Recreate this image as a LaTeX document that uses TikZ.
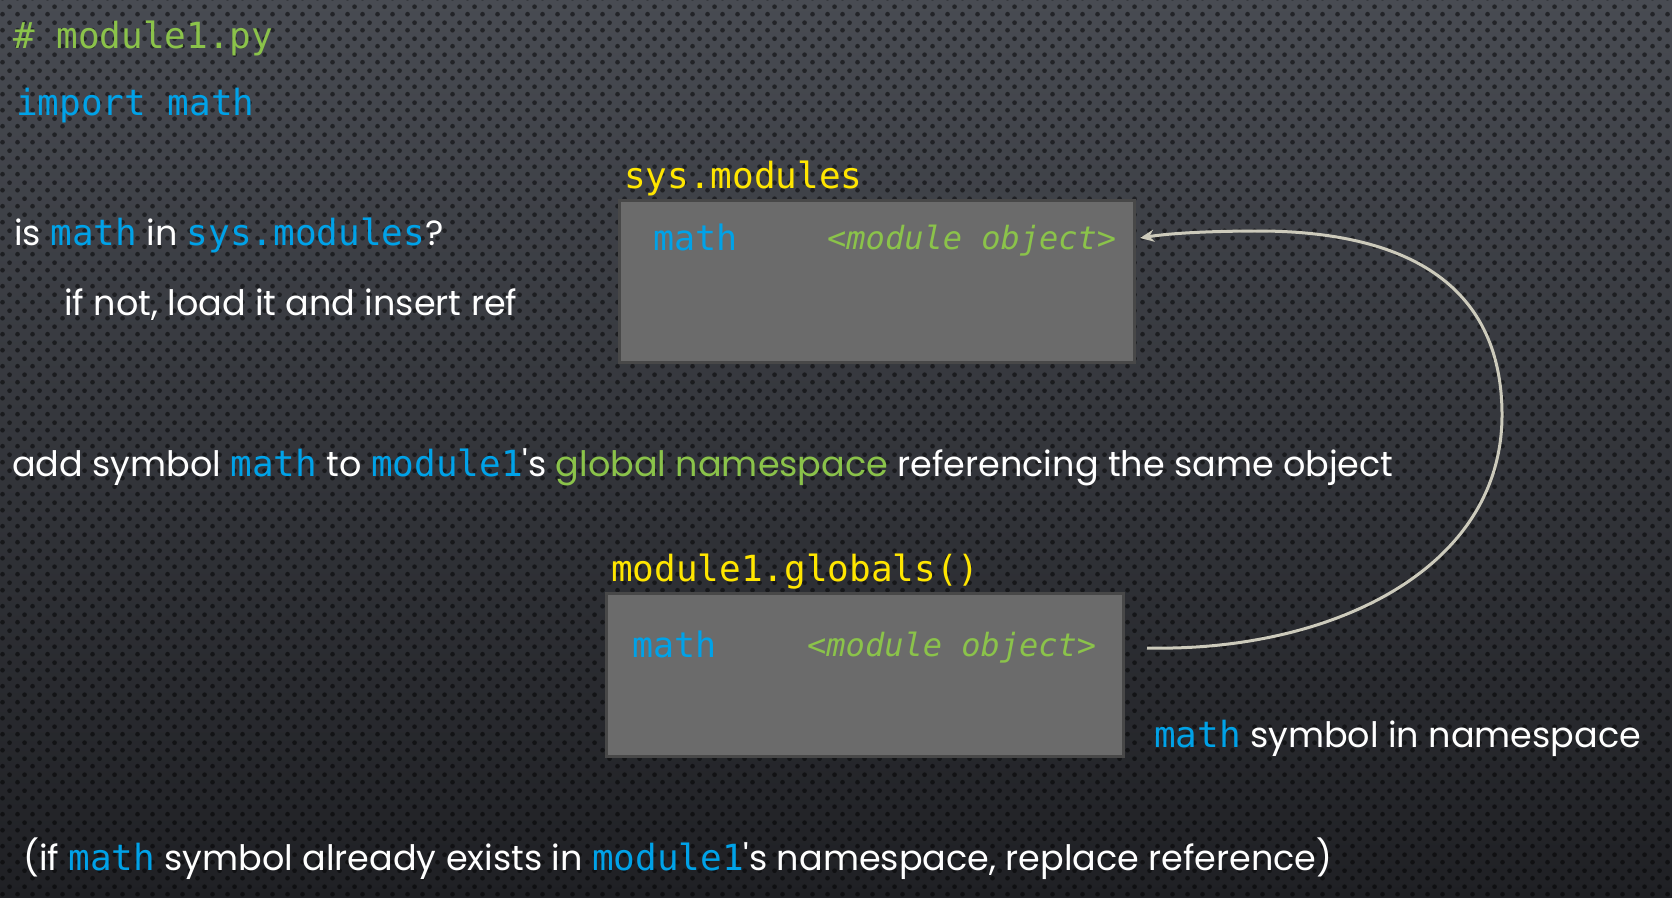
\documentclass[tikz,border=0pt]{standalone}
\usepackage{fontspec}
\setmainfont[Ligatures=TeXOff]{Poppins}
\setmonofont{DejaVu Sans Mono}
\usetikzlibrary{arrows.meta,patterns.meta}
\definecolor{cyel}{RGB}{255,230,0}
\definecolor{cblue}{RGB}{0,162,232}
\definecolor{cgreen}{RGB}{139,195,74}
\definecolor{boxfill}{RGB}{107,107,107}
\definecolor{boxline}{RGB}{72,72,72}
\definecolor{arr}{RGB}{205,203,188}
\definecolor{bgtop}{RGB}{72,75,82}
\definecolor{bgbot}{RGB}{31,32,36}
\tikzdeclarepattern{name=bgdots,type=uncolored,bounding box={(0pt,0pt) and (15pt,16pt)},tile size={(15pt,16pt)},code={\fill (3.75pt,4pt) circle (2.5pt); \fill (11.25pt,12pt) circle (2.5pt);}}
\newcommand{\mt}[1]{{\ttfamily\fontsize{36}{40}\selectfont #1}}
\tikzset{
  txt/.style={anchor=base west,inner sep=0pt,text=white,font=\fontsize{35}{40}\selectfont},
  code/.style={anchor=base west,inner sep=0pt,font=\ttfamily\fontsize{36}{40}\selectfont},
  objtxt/.style={anchor=base west,inner sep=0pt,text=cgreen,font=\ttfamily\itshape\fontsize{32}{36}\selectfont},
  boxst/.style={anchor=north west,inner sep=0pt,fill=boxfill,draw=boxline,line width=3pt},
  refarrow/.style={draw=arr,line width=3pt,-{Stealth[length=14pt,width=12pt]}}
}
\begin{document}
\begin{tikzpicture}[x=1pt,y=1pt]
\useasboundingbox (0,0) rectangle (1672,-897);
\fill[top color=bgtop,bottom color=bgbot] (0,0) rectangle (1672,-897);
\fill[pattern=bgdots,pattern color=black,opacity=0.5] (0,0) rectangle (1672,-897);
% code header
\node[code,text=cgreen] (hdr) at (13,-48) {\# module1.py};
\node[code,text=cblue] (imp) at (16,-115) {import math};
% question
\node[txt] (q1) at (14,-245) {is \textcolor{cblue}{\mt{math}} in \textcolor{cblue}{\mt{sys.modules}}?};
\node[txt] (q2) at (64,-315) {if not, load it and insert ref};
% sys.modules box
\node[code,text=cyel] (smlab) at (624,-188) {sys.modules};
\node[boxst,minimum width=515pt,minimum height=162pt] (b1) at (618,-199) {};
\node[code,text=cblue,font=\ttfamily\fontsize{35}{40}\selectfont] (m1) at (653,-250) {math};
\node[objtxt] (o1) at (827,-249) {<module object>};
% middle line
\node[txt] (add) at (12,-476) {add symbol \textcolor{cblue}{\mt{math}} to \textcolor{cblue}{\mt{module1}}'s \textcolor{cgreen}{global namespace} referencing the same object};
% globals box
\node[code,text=cyel] (glab) at (611,-581) {module1.globals()};
\node[boxst,minimum width=517pt,minimum height=163pt] (b2) at (605,-592) {};
\node[code,text=cblue,font=\ttfamily\fontsize{35}{40}\selectfont] (m2) at (632,-657) {math};
\node[objtxt] (o2) at (807,-656) {<module object>};
\node[txt] (sym) at (1154,-747) {\textcolor{cblue}{\mt{math}} symbol in namespace};
% bottom
\node[txt] (bot) at (23,-870) {(if \textcolor{cblue}{\mt{math}} symbol already exists in \textcolor{cblue}{\mt{module1}}'s namespace, replace reference)};
% arrow
\coordinate (s) at (1147,-648);
\coordinate (t) at (1140,-238);
\path[refarrow] (s) .. controls (1330,-652) and (1502,-570) .. (1502,-415)
  .. controls (1502,-280) and (1400,-232) .. (1262,-231)
  .. controls (1200,-231) and (1165,-234) .. (t);
\end{tikzpicture}
\end{document}
